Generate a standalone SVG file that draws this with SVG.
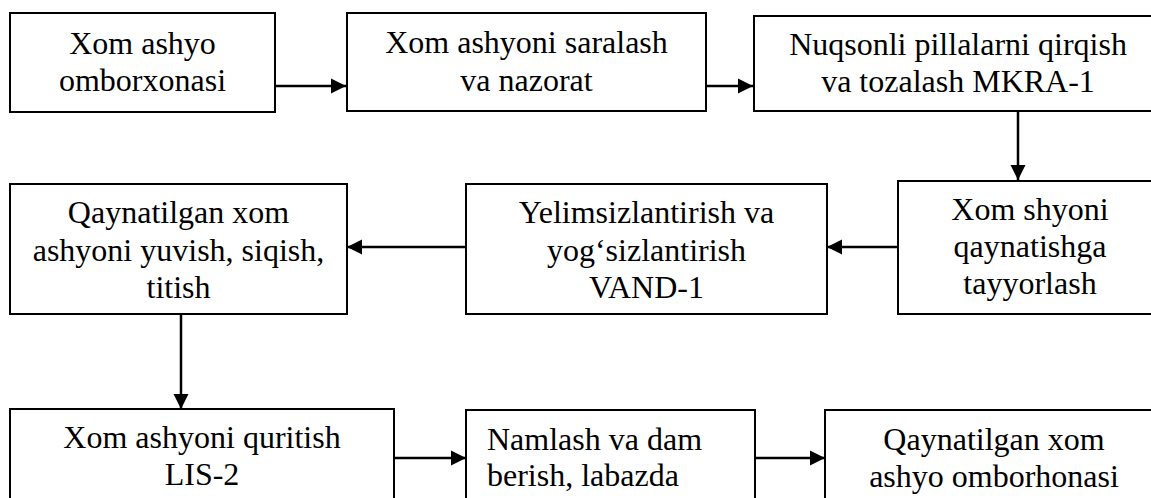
<svg xmlns="http://www.w3.org/2000/svg" width="1151" height="498" viewBox="0 0 1151 498">
<style>
.box{fill:#fff;stroke:#000;stroke-width:2}
text{font-family:'Liberation Serif','DejaVu Serif',serif;font-size:32px;fill:#000}
.t{text-anchor:middle}
.tl{text-anchor:start}
.c{stroke:#000;stroke-width:2.5;fill:none;marker-end:url(#ah)}
</style>
<defs>
<marker id="ah" markerUnits="userSpaceOnUse" markerWidth="16" markerHeight="16" refX="15" refY="8" orient="auto">
<path d="M0,0.5 L15,8 L0,15.5 Z" fill="#000"/>
</marker>
</defs>
<rect width="1151" height="498" fill="#fff"/>
<g id="connectors">
<line class="c" x1="275" y1="86" x2="346" y2="86"/>
<line class="c" x1="706" y1="86" x2="753" y2="86"/>
<line class="c" x1="1018" y1="111" x2="1018" y2="180"/>
<line class="c" x1="898" y1="247" x2="827" y2="247"/>
<line class="c" x1="466" y1="247" x2="347" y2="247"/>
<line class="c" x1="181" y1="314" x2="181" y2="409"/>
<line class="c" x1="394" y1="458" x2="466" y2="458"/>
<line class="c" x1="755" y1="458" x2="825" y2="458"/>
</g>
<g id="n1">
<rect class="box" x="10" y="13" width="265" height="99"/>
<text class="t" x="142.5" y="54">Xom ashyo</text>
<text class="t" x="142.5" y="91">omborxonasi</text>
</g>
<g id="n2">
<rect class="box" x="347" y="13" width="359" height="98"/>
<text class="t" x="526.5" y="53">Xom ashyoni saralash</text>
<text class="t" x="526.5" y="91">va nazorat</text>
</g>
<g id="n3">
<rect class="box" x="754" y="16" width="408" height="95"/>
<text class="t" x="958" y="55">Nuqsonli pillalarni qirqish</text>
<text class="t" x="958" y="92">va tozalash MKRA-1</text>
</g>
<g id="n4">
<rect class="box" x="898" y="181" width="264" height="133"/>
<text class="t" x="1030" y="220">Xom shyoni</text>
<text class="t" x="1030" y="257">qaynatishga</text>
<text class="t" x="1030" y="294">tayyorlash</text>
</g>
<g id="n5">
<rect class="box" x="466" y="184" width="361" height="130"/>
<text class="t" x="646.5" y="223">Yelimsizlantirish va</text>
<text class="t" x="646.5" y="261">yog‘sizlantirish</text>
<text class="t" x="646.5" y="298">VAND-1</text>
</g>
<g id="n6">
<rect class="box" x="10" y="184" width="337" height="130"/>
<text class="t" x="178.5" y="223">Qaynatilgan xom</text>
<text class="t" x="178.5" y="261">ashyoni yuvish, siqish,</text>
<text class="t" x="178.5" y="298">titish</text>
</g>
<g id="n7">
<rect class="box" x="10" y="409" width="384" height="110"/>
<text class="t" x="202" y="448">Xom ashyoni quritish</text>
<text class="t" x="202" y="485">LIS-2</text>
</g>
<g id="n8">
<rect class="box" x="466" y="410" width="289" height="110"/>
<text class="tl" x="487" y="450">Namlash va dam</text>
<text class="tl" x="487" y="486">berish, labazda</text>
</g>
<g id="n9">
<rect class="box" x="825" y="410" width="338" height="110"/>
<text class="t" x="994" y="450">Qaynatilgan xom</text>
<text class="t" x="994" y="487">ashyo omborhonasi</text>
</g>
</svg>
